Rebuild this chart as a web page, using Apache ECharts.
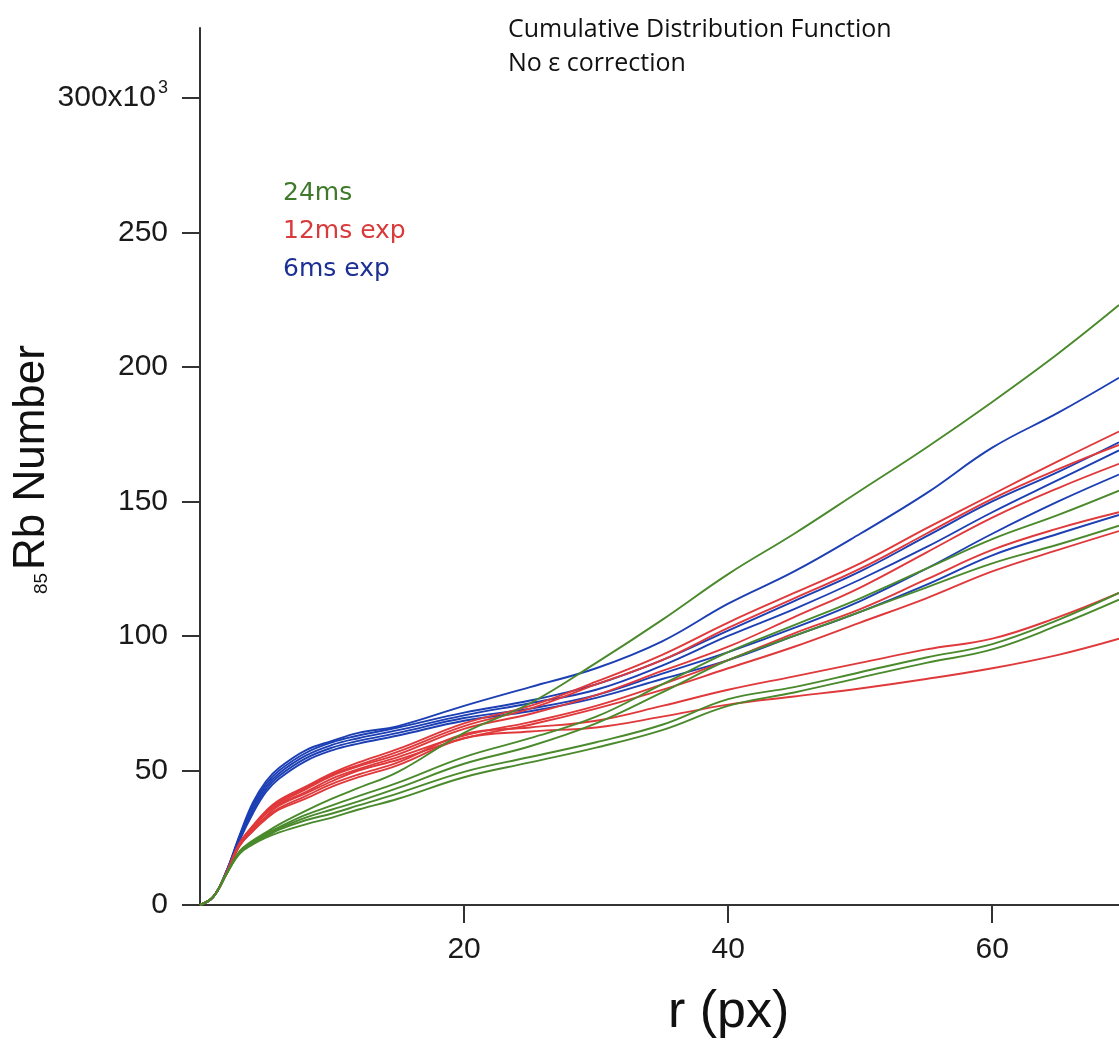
<!DOCTYPE html>
<html>
<head>
<meta charset="utf-8">
<script src="https://cdn.jsdelivr.net/npm/echarts@6/dist/echarts.min.js"></script>
<style>html,body{margin:0;padding:0;background:#fff}#c{width:1119px;height:1043px}</style>
</head>
<body>
<div id="c"></div>
<script>
// radius grid (px)
const rValues = [0,1,2,3,4,5,6,8,10,12,15,20,25,30,35,40,45,50,55,60,65,69.6];

// 6 ms exp (blue), values in thousands
const blue1 = [0,3,12.5,26,38,46,51,57.5,61,64,66.5,74,81,88,98,112,124,138,153,170,183,196];
const blue2 = [0,3,12.5,25.5,37,45,50,56.5,60.5,63,66,71.5,76,82,91,102,113,124,137,150,161,172];
const blue3 = [0,3,12.5,25,36,44,49,55.5,59.5,62,65,70.5,75,80,89,100,110,121,133,146,158,169];
const blue4 = [0,3,12.5,24.5,35,43,48,54.5,58.5,61,64,69.5,73,78,86,94,103,113,125,138,150,160];
const blue5 = [0,3,12,24,34,42,47,53.5,57.5,60,63,68.5,72,77,84,91,100,109,119,130,138,145];

// 12 ms exp (red)
const red1 = [0,3,12,23,29.5,35,39,44,49,53,58,67.5,74,83,93,105,116,127,140,152.6,165,176];
const red2 = [0,3,12,23,29,34.5,38.5,43.5,48.5,52,57,66.5,73,82,91,103,114,125,138,151,162,171];
const red3 = [0,3,12,23,29,34.5,38,43,48,51.5,56,65.5,71,78,87,96,107,118,131,144,155,164];
const red4 = [0,3,12,22.5,28.5,34,37.5,42,47,50.5,55,63,68,74,82,91,101,110,121,132,140,146];
const red5 = [0,3,12,22.5,28,33,37,41.5,46,50,54,62,67,73,80,88,96,105,114,124,132,139];
const red6 = [0,3,11.5,22,27.5,32.5,36,40.5,45,48.5,53,63.5,66,68.5,74,80,85,90,95,99,107,116];
const red7 = [0,3,11.5,22,27.5,32,35.5,39.5,44,47.5,52,62,64.5,66,70,74.5,77.5,80.5,84,88,93,99];

// 24 ms (green)
const green1 = [0,3,11.5,20,24,27,30,35,39.5,43.5,49.5,64,75,90,106,123,138,154,170,187,205,223];
const green2 = [0,3,11.5,19.5,23.5,26.5,29,33.5,37,40.5,45.5,55,62,70,82,94,104,114,125,136,145,154];
const green3 = [0,3,11.5,19.5,23,26,28.5,32.5,35.5,38.5,43.5,52.5,59,67.5,79,91,100,109,118,127,134,141];
const green4 = [0,3,11.5,19.5,23,25.5,28,31.5,34,37,41.5,49.5,55,60.5,67,76.5,81,86.5,92,97,106,116];
const green5 = [0,3,11.5,19,22.5,25,27,30,32.5,35.5,39.5,47.5,53,58.5,65,74,79,84.5,90,95,104,113.5];

const xTicks = [20,40,60];
const yTicks = [0,50,100,150,200,250,300];
const legendLabels = ['24ms','12ms exp','6ms exp'];
const titleLines = ['Cumulative Distribution Function','No \u03b5 correction'];

const C_BLUE = '#1c3fb4', C_RED = '#e0393b', C_GREEN = '#4a8a2c';

function mk(vals, color){
  return {
    type:'line', data: rValues.map((x,i)=>[x, vals[i]]),
    showSymbol:false, smooth:0.4,
    lineStyle:{color:color, width:1.9}, itemStyle:{color:color},
    silent:true, animation:false
  };
}
const series = [];
[blue1,blue2,blue3,blue4,blue5].forEach(v=>series.push(mk(v,C_BLUE)));
[red1,red2,red3,red4,red5,red6,red7].forEach(v=>series.push(mk(v,C_RED)));
[green1,green2,green3,green4,green5].forEach(v=>series.push(mk(v,C_GREEN)));

const tickFont = 'Liberation Sans, Arial';
const chart = echarts.init(document.getElementById('c'));
chart.setOption({
  animation:false,
  backgroundColor:'#fff',
  grid:{left:200, right:0, top:28, bottom:138, containLabel:false},
  xAxis:{
    type:'value', min:0, max:69.6,
    axisLine:{show:true, lineStyle:{color:'#333', width:2}},
    axisTick:{show:true, inside:false, length:18, lineStyle:{color:'#333', width:2}, customValues:xTicks},
    axisLabel:{customValues:xTicks, margin:30, fontSize:30, color:'#1a1a1a', fontFamily:tickFont},
    splitLine:{show:false}
  },
  yAxis:{
    type:'value', min:0, max:326,
    axisLine:{show:true, lineStyle:{color:'#333', width:2}},
    axisTick:{show:true, inside:false, length:18, lineStyle:{color:'#333', width:2}, customValues:yTicks},
    axisLabel:{customValues:yTicks, margin:32, fontSize:30, color:'#1a1a1a', fontFamily:tickFont,
      formatter:function(v){ return v===300 ? '{a|300x10}{s|3}' : String(v); },
      rich:{a:{fontSize:30, color:'#1a1a1a', fontFamily:tickFont},
            s:{fontSize:18, color:'#1a1a1a', verticalAlign:'top', padding:[0,0,20,2], fontFamily:tickFont}}
    },
    splitLine:{show:false}
  },
  graphic:[
    {type:'text', x:508, y:17, style:{text:titleLines[0], font:'25px "Open Sans"', fill:'#111'}},
    {type:'text', x:508, y:51, style:{text:titleLines[1], font:'25px "Open Sans"', fill:'#111'}},
    {type:'text', x:283, y:181, style:{text:legendLabels[0], font:'25px "DejaVu Sans"', fill:'#3f7a2b'}},
    {type:'text', x:283, y:219, style:{text:legendLabels[1], font:'25px "DejaVu Sans"', fill:'#d93a3c'}},
    {type:'text', x:283, y:257, style:{text:legendLabels[2], font:'25px "DejaVu Sans"', fill:'#1b2f95'}},
    {type:'text', x:668, y:987, style:{text:'r (px)', font:'52px "Liberation Sans"', fill:'#111'}},
    {type:'text', x:10, y:570, rotation:Math.PI/2, style:{text:'Rb Number', font:'44px "Liberation Sans"', fill:'#111'}},
    {type:'text', x:32, y:594, rotation:Math.PI/2, style:{text:'85', font:'19px "Liberation Sans"', fill:'#111'}}
  ],
  series:series
});
</script>
</body>
</html>
